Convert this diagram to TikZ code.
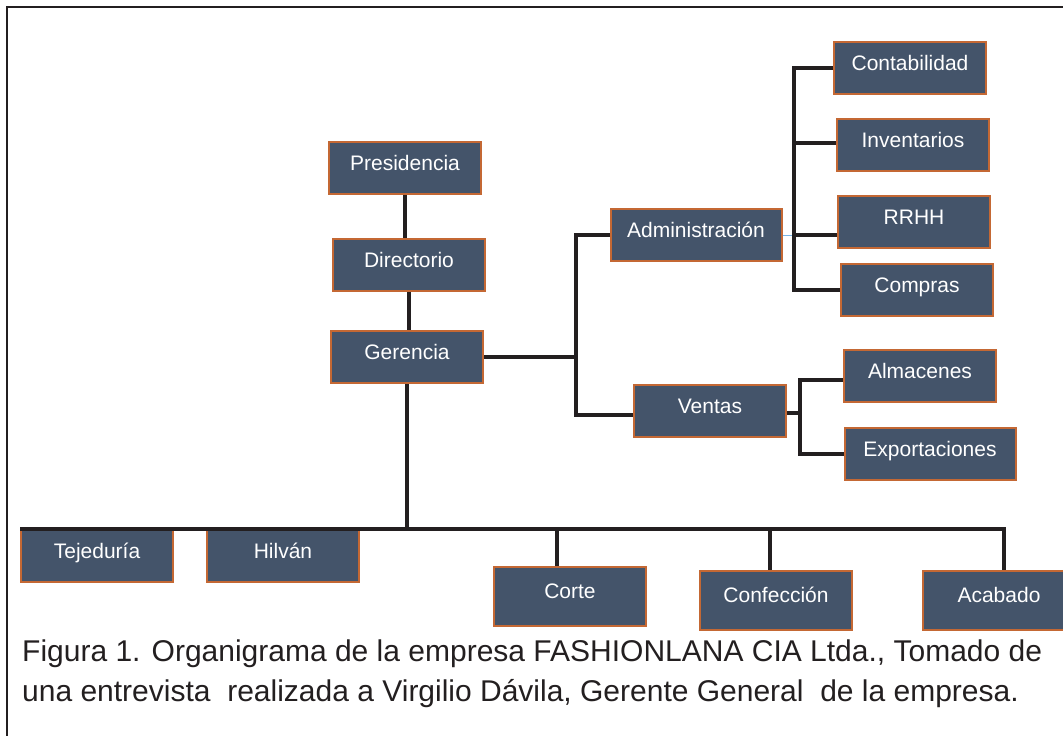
\documentclass[tikz,border=0pt]{standalone}
\usepackage{fontspec}
\setmainfont{Liberation Sans}
\definecolor{slate}{RGB}{68,84,106}
\definecolor{rust}{RGB}{196,104,52}
\definecolor{ink}{RGB}{35,31,32}
\definecolor{paleblue}{RGB}{120,180,230}
\begin{document}
\begin{tikzpicture}[x=1pt,y=-1pt,
  unit/.style={rectangle,draw=rust,fill=slate,line width=2pt,text=white,
    font=\fontsize{21}{23}\selectfont,minimum width=152pt,inner sep=0pt,
    text height=28pt,text depth=24pt},
  tall/.style={text height=32pt,text depth=27pt},
  link/.style={draw=ink,line width=3.2pt}]
\useasboundingbox (0,0) rectangle (1063,736);
\draw[ink,line width=2.6pt] (7,7) rectangle (1100,780);
\node[unit] (pres) at (405,168) {Presidencia};
\node[unit] (dir) at (409,265) {Directorio};
\draw[link] (pres.south) -- (pres.south |- dir.north);
\node[unit] (ger) at (407,357) {Gerencia};
\draw[link] (dir.south) -- (dir.south |- ger.north);
\node[unit,minimum width=171pt] (adm) at (696,235) {Administración};
\node[unit] (ven) at (710,411) {Ventas};
\coordinate (jg) at (576,357);
\draw[link] (ger.east) -- (jg);
\draw[link] (adm.west) -| (jg) |- ([yshift=-4pt]ven.west);
\node[unit] (cont) at (910,68) {Contabilidad};
\node[unit] (inv) at (913,145) {Inventarios};
\node[unit] (rrhh) at (914,222) {RRHH};
\node[unit] (comp) at (917,290) {Compras};
\coordinate (ja) at (794,235);
\draw[paleblue,line width=1pt] (adm.east) -- (ja);
\draw[link] (cont.west) -| (ja |- comp.west) -- (comp.west);
\draw[link] ([yshift=2pt]inv.west) -- ([yshift=2pt]inv.west -| ja);
\draw[link] (ja) -- (ja -| rrhh.west);
\node[unit] (alm) at (920,376) {Almacenes};
\node[unit,minimum width=171pt] (exp) at (930,454) {Exportaciones};
\coordinate (jv) at (800,413);
\draw[link] (ven.east |- jv) -- (jv);
\draw[link] ([yshift=-4pt]alm.west) -| (jv |- exp.west) -- (exp.west);
\node[unit] (tej) at (97,556) {Tejeduría};
\node[unit] (hil) at (283,556) {Hilván};
\node[unit,tall] (cor) at (570,596) {Corte};
\node[unit,tall] (conf) at (776,600) {Confección};
\node[unit,tall] (acab) at (999,600) {Acabado};
\coordinate (jb) at (406,530);
\draw[link] (ger.south) -- (ger.south |- jb);
\draw[link] (tej.north west) -| ([xshift=5pt]acab.north);
\draw[link] ([xshift=-13pt]cor.north) -- +(0,-37);
\draw[link] ([xshift=-6pt]conf.north) -- +(0,-41);
\node[anchor=north west,align=left,text=ink,inner sep=0pt,
  font=\fontsize{30}{40}\selectfont] (cap) at (22,640)
  {Figura 1. Organigrama de la empresa FASHIONLANA CIA Ltda., Tomado de\\
   una entrevista\ \ realizada a Virgilio Dávila, Gerente General\ \ de la empresa.};
\end{tikzpicture}
\end{document}
